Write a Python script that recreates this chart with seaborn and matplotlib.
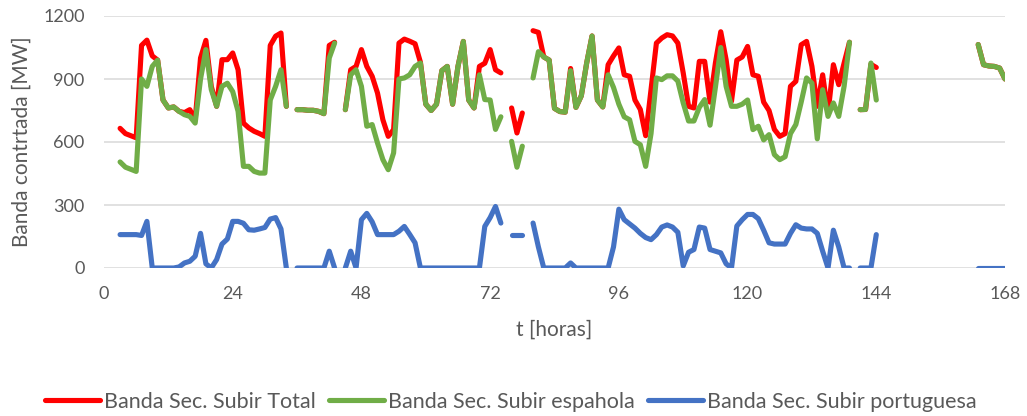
import numpy as np
import pandas as pd
import matplotlib
matplotlib.use('Agg')
import matplotlib.pyplot as plt
from matplotlib.lines import Line2D
import seaborn as sns

nan = np.nan

# hours 3..168
hours = np.arange(3, 169)

total = [
    665, 640, 630, 620, 1060, 1085, 1010, 990, 800, 762,          # 3-12
    767, 746, 740, 754, 706, 1000, 1084, 865, 770, 992,           # 13-22
    992, 1024, 944, 690, 667, 651, 640, 627, 1060, 1104,          # 23-32
    1119, 770, nan, 754, 754, 751, 751, 746, 735, 1060,           # 33-42
    1075, nan, 754, 944, 960, 1040, 960, 913, 833, 706,           # 43-52
    627, 659, 1071, 1090, 1080, 1068, 980, 780, 750, 780,         # 53-62
    940, 960, 780, 960, 1079, 800, 762, 960, 975, 1040,           # 63-72
    944, 929, nan, 762, 643, 738, nan, 1130, 1122, 1005,          # 73-82
    990, 760, 745, 742, 950, 765, 820, 976, 1105, 800,            # 83-92
    767, 968, 1010, 1048, 920, 913, 800, 755, 630, 850,           # 93-102
    1071, 1095, 1111, 1105, 1071, 929, 770, 762, 984, 984,        # 103-112
    790, 976, 1125, 992, 794, 990, 1005, 1055, 920, 913,          # 113-122
    790, 750, 660, 627, 640, 865, 889, 1063, 1079, 960,           # 123-132
    770, 920, 738, 968, 873, 976, 1075, nan, 754, 755,            # 133-142
    970, 955, nan, nan, nan, nan, nan, nan, nan, nan,             # 143-152
    nan, nan, nan, nan, nan, nan, nan, nan, nan, nan,             # 153-162
    1064, 968, 962, 960, 952, 900,                                # 163-168
]

espanola = [
    505, 480, 470, 460, 900, 865, 960, 990, 800, 762,
    767, 746, 730, 722, 690, 900, 1040, 850, 770, 865,
    880, 840, 746, 484, 484, 460, 452, 452, 800, 865,
    944, 770, nan, 754, 754, 751, 751, 746, 735, 1000,
    1071, nan, 754, 920, 944, 865, 675, 683, 595, 516,
    468, 548, 900, 905, 920, 960, 976, 780, 750, 780,
    940, 960, 780, 960, 1079, 800, 762, 920, 802, 800,
    660, 720, nan, 603, 480, 580, nan, 905, 1030, 1005,
    990, 760, 745, 742, 940, 765, 820, 976, 1105, 800,
    767, 920, 860, 780, 720, 706, 603, 587, 484, 640,
    905, 897, 915, 915, 890, 786, 700, 700, 765, 802,
    680, 860, 1050, 865, 770, 770, 780, 800, 659, 675,
    610, 635, 540, 516, 530, 640, 683, 790, 905, 880,
    615, 849, 722, 786, 722, 865, 1075, nan, 754, 755,
    976, 800, nan, nan, nan, nan, nan, nan, nan, nan,
    nan, nan, nan, nan, nan, nan, nan, nan, nan, nan,
    1064, 968, 962, 960, 952, 900,
]

portuguesa = [
    159, 159, 159, 159, 155, 222, 0, 0, 0, 0,
    0, 5, 24, 32, 56, 165, 20, 0, 40, 114,
    138, 222, 222, 213, 182, 180, 186, 193, 233, 240,
    186, 0, nan, 0, 0, 0, 0, 0, 0, 80,
    0, nan, 0, 80, 0, 230, 260, 220, 159, 159,
    159, 159, 175, 198, 160, 120, 0, 0, 0, 0,
    0, 0, 0, 0, 0, 0, 0, 0, 198, 240,
    293, 214, nan, 159, 159, 159, nan, 214, 100, 0,
    0, 0, 0, 0, 24, 0, 0, 0, 0, 0,
    0, 0, 100, 280, 230, 210, 190, 165, 145, 135,
    159, 195, 205, 195, 170, 10, 75, 88, 195, 190,
    88, 80, 72, 20, 0, 200, 230, 255, 255, 235,
    180, 120, 114, 114, 114, 165, 206, 190, 186, 186,
    165, 80, 0, 180, 100, 0, 0, nan, 0, 0,
    0, 159, nan, nan, nan, nan, nan, nan, nan, nan,
    nan, nan, nan, nan, nan, nan, nan, nan, nan, nan,
    0, 0, 0, 0, 0, 0,
]

series_names = ['Banda Sec. Subir Total', 'Banda Sec. Subir espahola',
                'Banda Sec. Subir portuguesa']
colors = ['#FF0000', '#70AD47', '#4472C4']


def to_frame(name, values):
    s = pd.Series(values, index=hours, dtype=float)
    seg = s.isna().cumsum()
    df = pd.DataFrame({'hour': hours, 'value': s.values, 'serie': name, 'seg': seg.values})
    return df.dropna()


def main() -> None:
    df = pd.concat([to_frame(n, v) for n, v in zip(series_names, [total, espanola, portuguesa])],
                   ignore_index=True)

    sns.set_theme(style='white')
    plt.rcParams['font.family'] = ['Lato', 'DejaVu Sans']
    text_color = '#595959'

    fig = plt.figure(figsize=(10.27, 4.16), dpi=100)
    ax = fig.add_axes([104 / 1027, 1 - 268 / 416, 901 / 1027, 252 / 416])

    sns.lineplot(data=df, x='hour', y='value', hue='serie', units='seg', estimator=None,
                 hue_order=series_names, palette=colors, sort=False, legend=False,
                 linewidth=3.7, solid_capstyle='round', solid_joinstyle='round', ax=ax, zorder=3)

    ax.set_xlim(0, 168)
    ax.set_ylim(0, 1200)
    ax.set_xticks(range(0, 169, 24))
    ax.set_yticks(range(0, 1201, 300))
    ax.grid(axis='y', color='#D9D9D9', linewidth=1.1)
    ax.grid(axis='x', visible=False)
    for sp in ax.spines.values():
        sp.set_visible(False)
    ax.tick_params(axis='both', length=0, labelsize=13, colors=text_color)
    ax.tick_params(axis='x', pad=13)
    ax.tick_params(axis='y', pad=14)
    ax.set_xlabel('t [horas]', fontsize=15, color=text_color)
    ax.set_ylabel('Banda contrtada [MW]', fontsize=15, color=text_color)
    ax.xaxis.set_label_coords(0.5, (268 - 320) / 252)
    ax.yaxis.set_label_coords((32 - 104) / 901, 0.5)

    handles = [Line2D([0], [0], color=c, lw=3.7, solid_capstyle='round') for c in colors]
    fig.legend(handles, series_names, loc='center', bbox_to_anchor=(511 / 1027, 1 - 402 / 416),
               ncol=3, frameon=False, fontsize=15.5, handlelength=2.55, handletextpad=0.2,
               columnspacing=0.6, labelcolor=text_color)

    fig.savefig('out.png', dpi=100)
    plt.close(fig)


if __name__ == '__main__':
    main()
